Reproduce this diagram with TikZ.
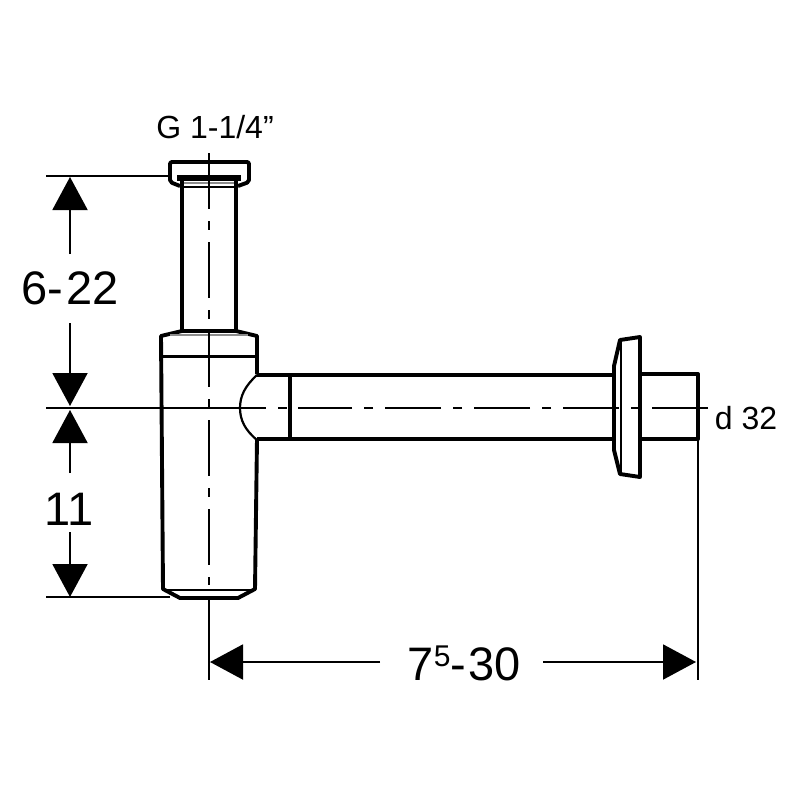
\documentclass[tikz,border=0pt]{standalone}
\usepackage{fontspec}
\usepackage{xcolor}
\usetikzlibrary{arrows.meta}
\setmainfont{Liberation Sans}

\begin{document}
\begin{tikzpicture}[x=1pt, y=-1pt,
    outline/.style={draw, line width=3.9pt, line join=round},
    innerline/.style={draw, line width=2.2pt},
    greyline/.style={draw=black!45, line width=1.6pt},
    thinline/.style={draw, line width=2pt},
    centerline/.style={draw, line width=2pt, dash pattern=on 56pt off 12pt on 9pt off 12pt},
    dimarrow/.style={draw, line width=2pt, -{Triangle[length=33pt, width=35pt]}},
    biglabel/.style={inner sep=0pt, font=\fontsize{47}{47}\selectfont},
    smalllabel/.style={inner sep=0pt, font=\fontsize{32}{32}\selectfont}]
     \useasboundingbox (0,0) rectangle (800,800);

     % dimension ends
     \coordinate (TopEdge) at (70,177);
     \coordinate (TopGap) at (70,254);
     \coordinate (MidUp) at (70,406);
     \coordinate (MidUpGap) at (70,323);
     \coordinate (MidDown) at (70,410);
     \coordinate (MidDownGap) at (70,473);
     \coordinate (LowEdge) at (70,597);
     \coordinate (LowGap) at (70,532);
     \coordinate (LeftEdge) at (210,662);
     \coordinate (LeftGap) at (380,662);
     \coordinate (RightEdge) at (696,662);
     \coordinate (RightGap) at (543,662);

     % labels
     \node[biglabel] (lenA) at (70,288) {6-\kern3pt 22};
     \node[biglabel] (lenB) at (69,509) {11};
     \node[biglabel] (lenC) at (464,663) {7\raisebox{14pt}{\fontsize{30}{30}\selectfont 5}-\kern2pt 30};
     \node[smalllabel] (capLabel) at (215,127) {G 1-1/4”};
     \node[smalllabel] (pipeLabel) at (746,418) {d 32};

     % cap
     \draw[outline, rounded corners=2pt] (180,186) -- (170,182) -- (170,162) -- (249,162) -- (249,182) -- (238,186);
     \fill (177,175) rectangle (241,181);
     \draw[greyline] (183,183) -- (235,183);
     \draw[innerline] (182,187) -- (236,187);

     % upper tube
     \draw[outline] (182,181) -- (182,331);
     \draw[outline] (236,181) -- (236,331);

     % body
     \draw[outline] (257,374) -- (257,336) -- (236,331) -- (182,331) -- (161,336) -- (163,589) -- (180,598) -- (238,598) -- (255,589) -- (257,439);
     \draw[greyline] (170,335) -- (248,335);
     \draw[outline, line width=3pt] (161,356) -- (257,356);
     \draw[innerline] (164,590) -- (254,590);

     % branch pipe
     \draw[innerline] (257,375) .. controls (245,386) and (240,396) .. (240,408) .. controls (240,420) and (245,430) .. (257,440);
     \draw[outline] (257,375) -- (614,375);
     \draw[outline] (257,439) -- (614,439);
     \draw[outline] (290,375) -- (290,439);

     % wall rosette
     \draw[outline] (614,366) -- (620,340) -- (640,337) -- (640,477) -- (620,474) -- (614,450) -- cycle;
     \draw[innerline] (621,340) -- (621,474);

     % pipe end
     \draw[outline] (640,374) -- (698,374) -- (698,439) -- (640,439);

     % center lines
     \draw[centerline] (209,153) -- (209,585);
     \draw[centerline] (708,408) -- (298,408);
     \draw[thinline] (278,408) -- (287,408);
     \draw[thinline] (46,408) -- (266,408);

     % extension lines
     \draw[thinline] (46,176) -- (170,176);
     \draw[thinline] (46,597) -- (170,597);
     \draw[thinline] (209,598) -- (209,680);
     \draw[thinline] (698,439) -- (698,680);

     % dimension arrows
     \draw[dimarrow] (TopGap) -- (TopEdge);
     \draw[dimarrow] (MidUpGap) -- (MidUp);
     \draw[dimarrow] (MidDownGap) -- (MidDown);
     \draw[dimarrow] (LowGap) -- (LowEdge);
     \draw[dimarrow] (LeftGap) -- (LeftEdge);
     \draw[dimarrow] (RightGap) -- (RightEdge);
 \end{tikzpicture}
\end{document}
